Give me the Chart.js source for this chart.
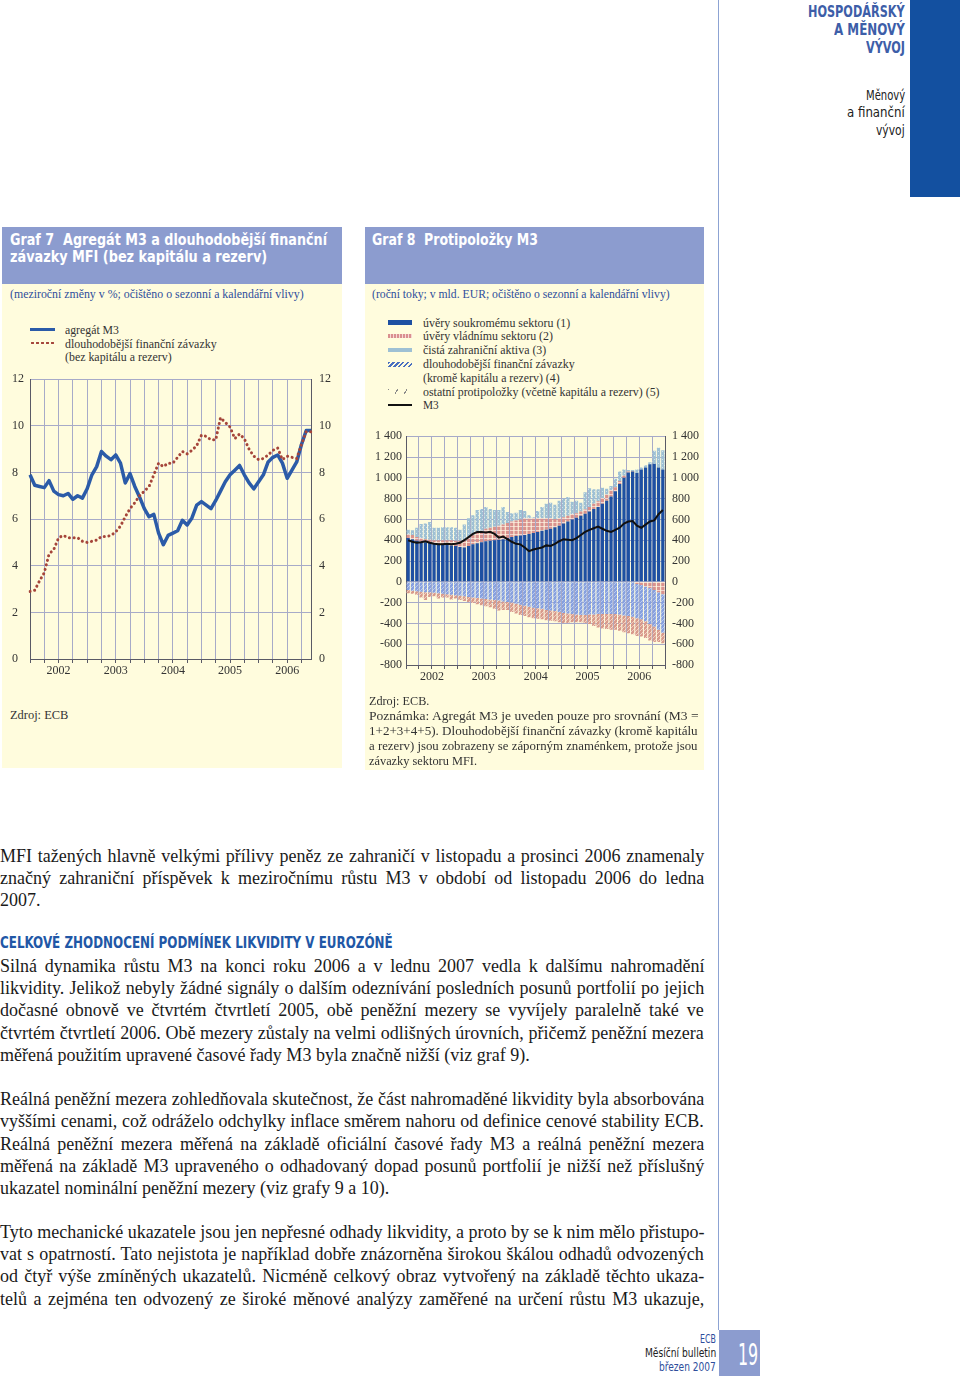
<!DOCTYPE html>
<html lang="cs">
<head>
<meta charset="UTF-8">
<title>Graf 7 a Graf 8</title>
<script src="https://cdn.jsdelivr.net/npm/chart.js@4.4.0/dist/chart.umd.min.js"></script>
<style>
  body { margin: 0; background: #fff; }
  #page { position: relative; width: 960px; height: 1376px; overflow: hidden; font-family: "Liberation Serif", "DejaVu Serif", serif; color: #222; }
  .abs { position: absolute; }
  .t { position: absolute; white-space: nowrap; transform-origin: 0 50%; line-height: 16px; }
  .cond { font-family: "DejaVu Sans Condensed", "Liberation Sans Narrow", sans-serif; font-weight: bold; }
  .cap { font-size: 12px; color: #333; }
  .ln { position: absolute; left: 0; white-space: nowrap; transform-origin: 0 50%; font-size: 18px; line-height: 22px; color: #1a1a1a; }
  .head { background: #8c9ccf; }
  .cream { background: #fffcdd; }
  .sw { position: absolute; left: 388px; width: 24px; }
</style>
</head>
<body>
<div id="page">

  <!-- horni zalozka -->
  <div class="abs" style="left:910px;top:0;width:50px;height:197px;background:#1350a0"></div>
  <div class="abs" style="left:718px;top:0;width:1px;height:1330px;background:#8da3d3"></div>
  <div class="t cond" data-w="97" style="left:808px;top:4px;font-size:16px;color:#3d5ea8">HOSPODÁŘSKÝ</div>
  <div class="t cond" data-w="71" style="left:834px;top:22px;font-size:16px;color:#3d5ea8">A MĚNOVÝ</div>
  <div class="t cond" data-w="39" style="left:866px;top:40px;font-size:16px;color:#3d5ea8">VÝVOJ</div>
  <div class="t cond" data-w="39" style="left:866px;top:87px;font-size:14px;font-weight:normal;color:#222">Měnový</div>
  <div class="t cond" data-w="58" style="left:847px;top:104px;font-size:14px;font-weight:normal;color:#222">a finanční</div>
  <div class="t cond" data-w="29" style="left:876px;top:122px;font-size:14px;font-weight:normal;color:#222">vývoj</div>

  <!-- Graf 7 -->
  <div class="abs head" style="left:2px;top:227px;width:340px;height:57px"></div>
  <div class="abs cream" style="left:2px;top:284px;width:340px;height:484px"></div>
  <div class="t cond" data-w="317" style="left:10px;top:232px;font-size:16px;color:#fff">Graf 7&nbsp;&nbsp;Agregát M3 a dlouhodobější finanční</div>
  <div class="t cond" data-w="257" style="left:10px;top:249px;font-size:16px;color:#fff">závazky MFI (bez kapitálu a rezerv)</div>
  <div class="t" data-w="294" style="left:10px;top:286px;font-size:12px;color:#2e4e9c">(meziroční změny v %; očištěno o sezonní a kalendářní vlivy)</div>

  <div class="abs" style="left:30px;top:328px;width:25px;height:3px;background:#2b5ba8"></div>
  <div class="abs" style="left:30px;top:341px;width:26px;height:4px;background-image:radial-gradient(circle,#a5453a 1.1px,transparent 1.5px);background-size:5px 4px"></div>
  <div class="t cap" data-w="54" style="left:65px;top:322px">agregát M3</div>
  <div class="t cap" data-w="152" style="left:65px;top:336px">dlouhodobější finanční závazky</div>
  <div class="t cap" data-w="107" style="left:65px;top:349px">(bez kapitálu a rezerv)</div>

  <canvas id="graf7" class="abs" width="342" height="324" style="left:0;top:364px"></canvas>
  <div class="t cap" data-w="58" style="left:10px;top:707px">Zdroj: ECB</div>

  <!-- Graf 8 -->
  <div class="abs head" style="left:365px;top:227px;width:339px;height:57px"></div>
  <div class="abs cream" style="left:365px;top:284px;width:339px;height:486px"></div>
  <div class="t cond" data-w="166" style="left:372px;top:232px;font-size:16px;color:#fff">Graf 8&nbsp;&nbsp;Protipoložky M3</div>
  <div class="t" data-w="298" style="left:372px;top:286px;font-size:12px;color:#2e4e9c">(roční toky; v mld. EUR; očištěno o sezonní a kalendářní vlivy)</div>

  <div class="sw" style="top:320px;height:5px;background:#1e50a2"></div>
  <div class="sw" style="top:334px;height:4px;background:repeating-linear-gradient(90deg,#d98f8f 0 2px,#f6d8d4 2px 3px)"></div>
  <div class="sw" style="top:348px;height:4px;background:#9ec0d4"></div>
  <div class="sw" style="top:362px;height:5px;background:repeating-linear-gradient(135deg,#4a6fc0 0 1.5px,#fffcdd 1.5px 3.5px)"></div>
  <div class="sw" style="top:389px;height:5px;background:repeating-linear-gradient(120deg,#8a8a8a 0 1px,transparent 1px 8px)"></div>
  <div class="sw" style="top:404px;height:2px;background:#111"></div>
  <div class="t cap" data-w="147" style="left:423px;top:315px">úvěry soukromému sektoru (1)</div>
  <div class="t cap" data-w="130" style="left:423px;top:328px">úvěry vládnímu sektoru (2)</div>
  <div class="t cap" data-w="123" style="left:423px;top:342px">čistá zahraniční aktiva (3)</div>
  <div class="t cap" data-w="152" style="left:423px;top:356px">dlouhodobější finanční závazky</div>
  <div class="t cap" data-w="137" style="left:423px;top:370px">(kromě kapitálu a rezerv) (4)</div>
  <div class="t cap" data-w="237" style="left:423px;top:384px">ostatní protipoložky (včetně kapitálu a rezerv) (5)</div>
  <div class="t cap" data-w="16" style="left:423px;top:397px">M3</div>

  <canvas id="graf8" class="abs" width="339" height="273" style="left:365px;top:422px"></canvas>

  <div class="t cap" data-w="60" style="left:369px;top:693px">Zdroj: ECB.</div>
  <div class="t cap" data-w="330" style="left:369px;top:708px">Poznámka: Agregát M3 je uveden pouze pro srovnání (M3 =</div>
  <div class="t cap" data-w="329" style="left:369px;top:723px">1+2+3+4+5). Dlouhodobější finanční závazky (kromě kapitálu</div>
  <div class="t cap" data-w="329" style="left:369px;top:738px">a rezerv) jsou zobrazeny se záporným znaménkem, protože jsou</div>
  <div class="t cap" data-w="108" style="left:369px;top:753px">závazky sektoru MFI.</div>

  <!-- text -->
  <div class="ln" style="top:845px">MFI tažených hlavně velkými přílivy peněz ze zahraničí v listopadu a prosinci 2006 znamenaly</div>
  <div class="ln" style="top:867px">značný zahraniční příspěvek k meziročnímu růstu M3 v období od listopadu 2006 do ledna</div>
  <div class="ln last" style="top:889px">2007.</div>

  <div class="t cond" data-w="393" style="left:0;top:935px;font-size:15px;color:#2157a6">CELKOVÉ ZHODNOCENÍ PODMÍNEK LIKVIDITY V EUROZÓNĚ</div>

  <div class="ln" style="top:955px">Silná dynamika růstu M3 na konci roku 2006 a v lednu 2007 vedla k dalšímu nahromadění</div>
  <div class="ln" style="top:977px">likvidity. Jelikož nebyly žádné signály o dalším odeznívání posledních posunů portfolií po jejich</div>
  <div class="ln" style="top:999px">dočasné obnově ve čtvrtém čtvrtletí 2005, obě peněžní mezery se vyvíjely paralelně také ve</div>
  <div class="ln" style="top:1022px">čtvrtém čtvrtletí 2006. Obě mezery zůstaly na velmi odlišných úrovních, přičemž peněžní mezera</div>
  <div class="ln last" style="top:1044px">měřená použitím upravené časové řady M3 byla značně nižší (viz graf 9).</div>

  <div class="ln" style="top:1088px">Reálná peněžní mezera zohledňovala skutečnost, že část nahromaděné likvidity byla absorbována</div>
  <div class="ln" style="top:1110px">vyššími cenami, což odráželo odchylky inflace směrem nahoru od definice cenové stability ECB.</div>
  <div class="ln" style="top:1133px">Reálná peněžní mezera měřená na základě oficiální časové řady M3 a reálná peněžní mezera</div>
  <div class="ln" style="top:1155px">měřená na základě M3 upraveného o odhadovaný dopad posunů portfolií je nižší než příslušný</div>
  <div class="ln last" style="top:1177px">ukazatel nominální peněžní mezery (viz grafy 9 a 10).</div>

  <div class="ln" style="top:1221px">Tyto mechanické ukazatele jsou jen nepřesné odhady likvidity, a proto by se k nim mělo přistupo-</div>
  <div class="ln" style="top:1243px">vat s opatrností. Tato nejistota je například dobře znázorněna širokou škálou odhadů odvozených</div>
  <div class="ln" style="top:1265px">od čtyř výše zmíněných ukazatelů. Nicméně celkový obraz vytvořený na základě těchto ukaza-</div>
  <div class="ln" style="top:1288px">telů a zejména ten odvozený ze široké měnové analýzy zaměřené na určení růstu M3 ukazuje,</div>

  <!-- paticka -->
  <div class="t cond" data-w="16" style="left:700px;top:1331px;font-size:12px;font-weight:normal;color:#2e4e9c">ECB</div>
  <div class="t cond" data-w="71" style="left:645px;top:1345px;font-size:12px;font-weight:normal;color:#222">Měsíční bulletin</div>
  <div class="t cond" data-w="57" style="left:659px;top:1359px;font-size:12px;font-weight:normal;color:#2e4e9c">březen 2007</div>
  <div class="abs" style="left:719px;top:1330px;width:41px;height:46px;background:#8c9ccf"></div>
  <div class="t cond" data-w="20" style="left:738px;top:1340px;font-size:30px;line-height:30px;font-weight:normal;color:#fff">19</div>
</div>

<script>
  // roky a mesice (leden 2002 - prosinec 2006)
  const years = ['2002', '2003', '2004', '2005', '2006'];
  const months = [];
  years.forEach(y => { for (let m = 1; m <= 12; m++) months.push(y + '-' + m); });

  // Graf 7: mezirocni zmeny v %
  const m3Growth = [
    7.9, 7.45, 7.4, 7.35, 7.65, 7.2, 7.05, 7.0, 7.1, 6.85, 7.0, 6.9,
    7.3, 7.9, 8.25, 8.9, 8.7, 8.55, 8.75, 8.4, 7.55, 7.95, 7.4, 6.95,
    6.45, 6.1, 6.2, 5.4, 4.9, 5.3, 5.4, 5.5, 5.95, 5.75, 6.05, 6.6,
    6.75, 6.6, 6.45, 6.8, 7.2, 7.6, 7.9, 8.1, 8.3, 7.9, 7.55, 7.3,
    7.6, 7.9, 8.45, 8.65, 8.75, 8.4, 7.75, 8.1, 8.45, 9.2, 9.8, 9.8
  ];
  const longTermGrowth = [
    2.9, 2.95, 3.35, 3.7, 4.5, 4.7, 5.2, 5.3, 5.2, 5.2, 5.2, 5.05,
    5.0, 5.05, 5.1, 5.25, 5.25, 5.3, 5.45, 5.7, 6.1, 6.45, 6.7, 7.0,
    7.2, 7.4, 7.9, 8.4, 8.25, 8.4, 8.4, 8.65, 8.9, 8.8, 8.95, 9.15,
    9.6, 9.55, 9.4, 9.4, 10.35, 10.15, 9.95, 9.45, 9.65, 9.45, 9.0, 8.7,
    8.55, 8.6, 8.75, 8.95, 9.05, 8.55, 8.7, 8.65, 8.6, 9.2, 9.75, 9.75
  ];

  // Graf 8: rocni toky v mld. EUR
  const privateLoans = [
    420, 410, 395, 385, 380, 375, 370, 365, 360, 355, 350, 345,
    335, 330, 345, 360, 370, 380, 390, 395, 400, 405, 410, 420,
    430, 440, 445, 450, 460, 470, 480, 490, 500, 510, 525, 540,
    560, 580, 600, 615, 635, 655, 675, 700, 720, 750, 780, 820,
    870, 940, 1000, 1050, 1060, 1045, 1080, 1100, 1130, 1135, 1100, 1080
  ];
  const govLoans = [
    35, 40, 35, 35, 30, 30, 30, 35, 40, 45, 50, 50,
    60, 70, 80, 90, 100, 110, 120, 125, 130, 135, 140, 145,
    150, 150, 155, 160, 150, 140, 130, 120, 110, 100, 80, 70,
    60, 55, 50, 45, 40, 40, 45, 50, 55, 55, 60, 60,
    40, 30, 20, 10, 5, -20, -30, -45, -60, -80, -100, -120
  ];
  const netExternal = [
    45, 45, 90, 135, 150, 170, 120, 120, 125, 125, 125, 125,
    105, 150, 185, 190, 220, 210, 210, 180, 160, 150, 170, 105,
    80, 75, 90, 70, 30, 10, 70, 110, 140, 150, 135, 170,
    180, 180, 120, 120, 85, 165, 180, 140, 115, 100, 55, 40,
    80, 90, 60, 15, 10, 35, 20, 20, 20, 125, 190, 185
  ];
  const longTermLiab = [
    -80, -85, -90, -95, -100, -100, -105, -110, -115, -120, -125, -130,
    -135, -140, -145, -150, -155, -160, -165, -170, -175, -180, -190, -195,
    -200, -210, -220, -230, -240, -250, -255, -260, -270, -275, -280, -290,
    -300, -305, -310, -315, -320, -320, -315, -315, -310, -310, -310, -310,
    -310, -315, -325, -330, -335, -330, -330, -335, -345, -350, -360, -370
  ];
  const otherCounterparts = [
    -30, -30, -35, -55, -75, -45, -35, -50, -35, -30, -45, -30,
    -40, -45, -50, -55, -60, -65, -70, -75, -85, -95, -80, -75,
    -90, -95, -100, -100, -100, -100, -100, -100, -100, -100, -100, -100,
    -95, -90, -80, -75, -70, -75, -90, -110, -130, -140, -145, -150,
    -150, -155, -160, -165, -170, -170, -165, -160, -160, -150, -120, -100
  ];
  const m3Flow = [
    400, 385, 375, 380, 390, 375, 365, 360, 360, 365, 360, 365,
    375, 400, 430, 460, 480, 480, 475, 480, 460, 425, 435, 410,
    385, 365, 360, 330, 295, 310, 320, 330, 350, 345, 365, 390,
    410, 405, 400, 420, 450, 480, 500, 515, 530, 510, 490, 480,
    500, 520, 560, 580, 585, 540, 520, 550, 580, 590, 650, 690
  ];

  // prizpusobeni sirky textu
  document.querySelectorAll('[data-w]').forEach(el => {
    const w = el.offsetWidth;
    el.style.transform = 'scaleX(' + (el.dataset.w / w) + ')';
  });
  const lines = [...document.querySelectorAll('.ln')];
  let maxW = 0;
  lines.forEach(el => { if (!el.classList.contains('last')) maxW = Math.max(maxW, el.offsetWidth); });
  const sc = Math.min(1.03, 704 / maxW);
  lines.forEach(el => {
    el.style.transform = 'scaleX(' + sc + ')';
    if (!el.classList.contains('last')) {
      const n = (el.textContent.match(/ /g) || []).length;
      el.style.wordSpacing = ((704 / sc - el.offsetWidth) / n) + 'px';
    }
  });

  const GRID = '#a7aac8';
  const AXIS = '#5a5a66';
  const tickFont = { family: 'Liberation Serif', size: 12 };
  Chart.defaults.font.family = 'Liberation Serif';
  Chart.defaults.color = '#333';

  function fmt(v) {
    const s = String(Math.abs(v));
    return (v < 0 ? '-' : '') + (s.length > 3 ? s.slice(0, -3) + ' ' + s.slice(-3) : s);
  }

  function hatch(bg, fg, kind) {
    const c = document.createElement('canvas');
    c.width = 4; c.height = 4;
    const g = c.getContext('2d');
    g.fillStyle = bg; g.fillRect(0, 0, 4, 4);
    g.fillStyle = fg;
    if (kind === 'h') { g.fillRect(0, 0, 4, 1); }
    if (kind === 'd') { g.fillRect(0, 3, 1, 1); g.fillRect(1, 2, 1, 1); g.fillRect(2, 1, 1, 1); g.fillRect(3, 0, 1, 1); }
    if (kind === 'dot') { g.fillRect(1, 1, 1, 1); g.fillRect(3, 3, 1, 1); }
    return g.createPattern(c, 'repeat');
  }

  const quarterColor = c => (c.index === undefined || c.index % 3 === 0) ? GRID : 'transparent';
  const quarterTick = c => (c.index === undefined || c.index % 3 === 0) ? AXIS : 'transparent';
  const yearLabel = (v, i) => i % 12 === 6 ? years[Math.floor(i / 12)] : '';

  // Graf 7
  new Chart(document.getElementById('graf7'), {
    type: 'line',
    data: {
      labels: months,
      datasets: [
        { label: 'dlouhodobější finanční závazky', data: longTermGrowth, borderColor: '#a5453a', borderWidth: 3,
          borderDash: [0.1, 4.6], borderCapStyle: 'round', pointRadius: 0, tension: 0 },
        { label: 'agregát M3', data: m3Growth, borderColor: '#2b5ba8', borderWidth: 3.5,
          pointRadius: 0, tension: 0, borderJoinStyle: 'round' }
      ]
    },
    options: {
      responsive: false,
      animation: false,
      layout: { padding: { top: 10, left: 12 } },
      plugins: { legend: { display: false }, tooltip: { enabled: false } },
      scales: {
        x: {
          offset: false,
          grid: { color: quarterColor, tickColor: quarterTick, tickLength: 4 },
          border: { color: AXIS },
          ticks: { autoSkip: false, maxRotation: 0, minRotation: 0, padding: 1, font: tickFont, callback: yearLabel },
          afterFit: s => { s.height = 29; }
        },
        y: {
          position: 'left', min: 0, max: 12,
          grid: { color: GRID, drawTicks: false },
          border: { color: AXIS },
          ticks: { stepSize: 2, crossAlign: 'far', font: tickFont },
          afterFit: s => { s.width = 18; }
        },
        y2: {
          position: 'right', min: 0, max: 12,
          grid: { display: false, drawTicks: false },
          border: { color: AXIS },
          ticks: { stepSize: 2, padding: 8, font: tickFont },
          afterFit: s => { s.width = 31; }
        }
      }
    }
  });

  // Graf 8
  new Chart(document.getElementById('graf8'), {
    type: 'bar',
    data: {
      labels: months,
      datasets: [
        { type: 'line', label: 'M3', data: m3Flow, yAxisID: 'y2', borderColor: '#111', borderWidth: 2,
          pointRadius: 0, tension: 0, order: 0 },
        { label: 'úvěry soukromému sektoru (1)', data: privateLoans, backgroundColor: '#1e50a2', order: 1 },
        { label: 'úvěry vládnímu sektoru (2)', data: govLoans, backgroundColor: hatch('#d9928e', '#f3d3cd', 'h'), order: 1 },
        { label: 'čistá zahraniční aktiva (3)', data: netExternal, backgroundColor: hatch('#9ec0d4', '#d3e3ec', 'dot'), order: 1 },
        { label: 'dlouhodobější finanční závazky (kromě kapitálu a rezerv) (4)', data: longTermLiab, backgroundColor: hatch('#86a0df', '#b9c9f0', 'd'), order: 1 },
        { label: 'ostatní protipoložky (včetně kapitálu a rezerv) (5)', data: otherCounterparts, backgroundColor: hatch('#d89a8b', '#f0cfc3', 'd'), order: 1 }
      ]
    },
    options: {
      responsive: false,
      animation: false,
      barPercentage: 0.76,
      categoryPercentage: 1,
      layout: { padding: { top: 10 } },
      plugins: { legend: { display: false }, tooltip: { enabled: false } },
      scales: {
        x: {
          stacked: true,
          offset: true,
          grid: { offset: true, color: quarterColor, tickColor: quarterTick, tickLength: 4 },
          border: { color: AXIS },
          ticks: { autoSkip: false, maxRotation: 0, minRotation: 0, padding: 1, labelOffset: -2, font: tickFont, callback: yearLabel },
          afterFit: s => { s.height = 30; }
        },
        y: {
          stacked: true, position: 'left', min: -800, max: 1400,
          grid: { color: GRID, drawTicks: false },
          border: { color: AXIS },
          ticks: { stepSize: 200, padding: 4, font: tickFont, callback: fmt },
          afterFit: s => { s.width = 41; }
        },
        y2: {
          position: 'right', min: -800, max: 1400,
          grid: { display: false, drawTicks: false },
          border: { color: AXIS },
          ticks: { stepSize: 200, padding: 7, font: tickFont, callback: fmt },
          afterFit: s => { s.width = 39; }
        }
      }
    }
  });
</script>
</body>
</html>
